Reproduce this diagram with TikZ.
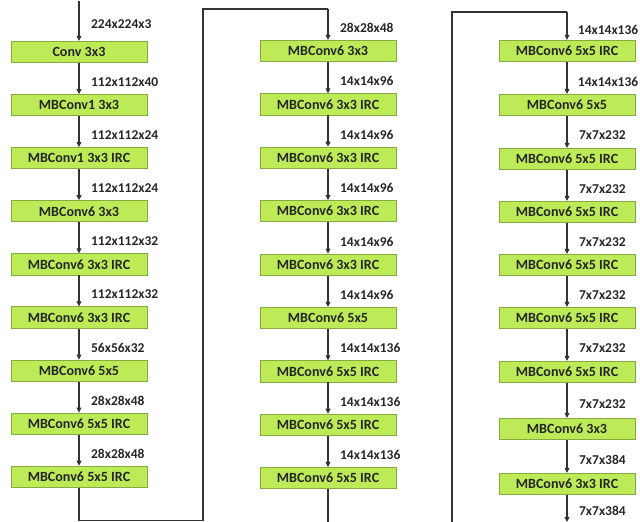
\documentclass[tikz,border=0pt]{standalone}
\usepackage{fontspec}
\setmainfont{Carlito}
\usepackage{tikz}
\usetikzlibrary{arrows.meta, positioning}
\usepackage{xcolor}
\definecolor{Lime}  {HTML}{BDEB58}
\definecolor{LimeD} {HTML}{86AA40}
\definecolor{Ink}   {HTML}{262626}
\definecolor{Wire}  {HTML}{333333}
\tikzset{
  blk/.style={
    rectangle, draw=LimeD, fill=Lime, text=Ink,
    font=\fontsize{10}{11}\selectfont\bfseries, align=center,
    inner sep=0pt, minimum width=34mm, minimum height=5.3mm,
    line width=0.6pt,
  },
  arr/.style={
    -{Triangle[length=3.6pt,width=3.4pt]},
    line width=0.75pt, color=Wire,
  },
  wire/.style={
    line width=0.85pt, color=Wire,
  },
  lbl/.style={
    font=\fontsize{9.6}{11}\selectfont\bfseries, text=Ink,
    anchor=west, xshift=2.9mm, yshift=-0.9mm, inner sep=0pt,
  },
}
\begin{document}
\begin{tikzpicture}[x=0.25mm,y=-0.25mm]
    \useasboundingbox (0,0) rectangle (640,522);

    % first column
    \node[blk] (a1) at (79,52)    {Conv 3x3};
    \node[blk] (a2) at (79,105.1) {MBConv1 3x3};
    \node[blk] (a3) at (79,158.2) {MBConv1 3x3 IRC};
    \node[blk] (a4) at (79,211.3) {MBConv6 3x3};
    \node[blk] (a5) at (79,264.4) {MBConv6 3x3 IRC};
    \node[blk] (a6) at (79,317.5) {MBConv6 3x3 IRC};
    \node[blk] (a7) at (79,370.6) {MBConv6 5x5};
    \node[blk] (a8) at (79,423.7) {MBConv6 5x5 IRC};
    \node[blk] (a9) at (79,476.8) {MBConv6 5x5 IRC};
    \coordinate (in) at (79,1);
    \draw[arr](in)--node[lbl]{224x224x3}(a1);
    \draw[arr](a1)--node[lbl]{112x112x40}(a2); \draw[arr](a2)--node[lbl]{112x112x24}(a3);
    \draw[arr](a3)--node[lbl]{112x112x24}(a4); \draw[arr](a4)--node[lbl]{112x112x32}(a5);
    \draw[arr](a5)--node[lbl]{112x112x32}(a6); \draw[arr](a6)--node[lbl]{56x56x32}(a7);
    \draw[arr](a7)--node[lbl]{28x28x48}(a8);   \draw[arr](a8)--node[lbl]{28x28x48}(a9);

    % second column
    \node[blk] (b1) at (328,51)    {MBConv6 3x3};
    \node[blk] (b2) at (328,104.4) {MBConv6 3x3 IRC};
    \node[blk] (b3) at (328,157.8) {MBConv6 3x3 IRC};
    \node[blk] (b4) at (328,211.2) {MBConv6 3x3 IRC};
    \node[blk] (b5) at (328,264.6) {MBConv6 3x3 IRC};
    \node[blk] (b6) at (328,318)   {MBConv6 5x5};
    \node[blk] (b7) at (328,371.4) {MBConv6 5x5 IRC};
    \node[blk] (b8) at (328,424.8) {MBConv6 5x5 IRC};
    \node[blk] (b9) at (328,478.2) {MBConv6 5x5 IRC};
    \coordinate (ab1) at (79,520.5);  \coordinate (ab2) at (203,520.5);
    \coordinate (ab3) at (203,9);     \coordinate (ab4) at (328,9);
    \draw[wire](a9)--(ab1)--(ab2)--(ab3)--(ab4);
    \draw[arr](ab4)--node[lbl]{28x28x48}(b1);
    \draw[arr](b1)--node[lbl]{14x14x96}(b2);  \draw[arr](b2)--node[lbl]{14x14x96}(b3);
    \draw[arr](b3)--node[lbl]{14x14x96}(b4);  \draw[arr](b4)--node[lbl]{14x14x96}(b5);
    \draw[arr](b5)--node[lbl]{14x14x96}(b6);  \draw[arr](b6)--node[lbl]{14x14x136}(b7);
    \draw[arr](b7)--node[lbl]{14x14x136}(b8); \draw[arr](b8)--node[lbl]{14x14x136}(b9);

    % third column
    \node[blk] (c1) at (567,51)  {MBConv6 5x5 IRC};
    \node[blk] (c2) at (567,105) {MBConv6 5x5};
    \node[blk] (c3) at (567,159) {MBConv6 5x5 IRC};
    \node[blk] (c4) at (567,212) {MBConv6 5x5 IRC};
    \node[blk] (c5) at (567,265) {MBConv6 5x5 IRC};
    \node[blk] (c6) at (567,318) {MBConv6 5x5 IRC};
    \node[blk] (c7) at (567,372) {MBConv6 5x5 IRC};
    \node[blk] (c8) at (567,429) {MBConv6 3x3};
    \node[blk] (c9) at (567,484) {MBConv6 3x3 IRC};
    \coordinate (bc1) at (328,524); \coordinate (bc2) at (452,524);
    \coordinate (bc3) at (452,12);  \coordinate (bc4) at (567,12);
    \draw[wire](b9)--(bc1);
    \draw[wire](bc2)--(bc3)--(bc4);
    \draw[arr](bc4)--node[lbl,xshift=-0.3mm]{14x14x136}(c1);
    \draw[arr](c1)--node[lbl,xshift=-0.3mm]{14x14x136}(c2); \draw[arr](c2)--node[lbl]{7x7x232}(c3);
    \draw[arr](c3)--node[lbl]{7x7x232}(c4);   \draw[arr](c4)--node[lbl]{7x7x232}(c5);
    \draw[arr](c5)--node[lbl]{7x7x232}(c6);   \draw[arr](c6)--node[lbl]{7x7x232}(c7);
    \draw[arr](c7)--node[lbl]{7x7x232}(c8);   \draw[arr](c8)--node[lbl]{7x7x384}(c9);
    \coordinate (out) at (567,522);
    \draw[arr](c9)--node[lbl,yshift=0.2mm]{7x7x384}(out);
  \end{tikzpicture}
\end{document}
